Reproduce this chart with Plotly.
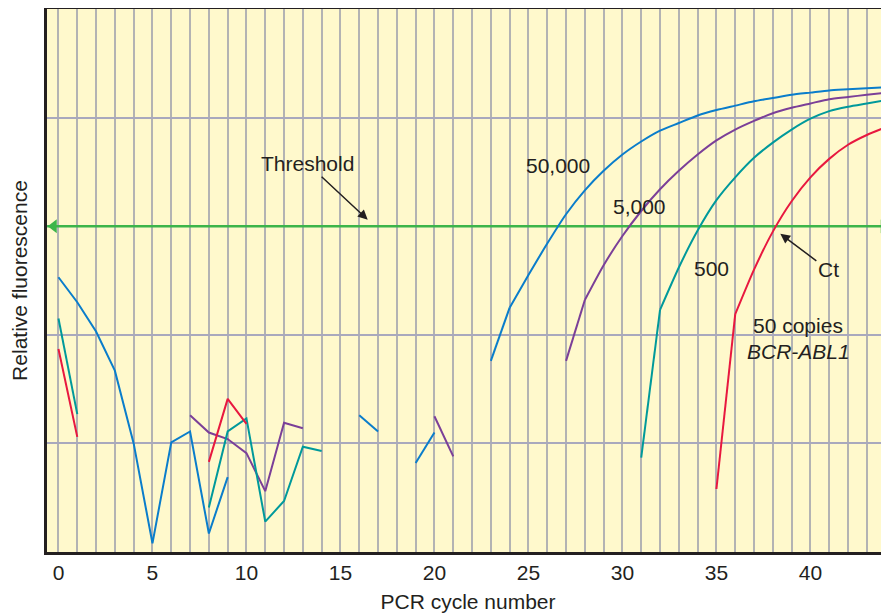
import plotly.graph_objects as go

cycles = list(range(45))
N = None

# 50,000 copies (blue)
blue = [2.53, 2.30, 2.03, 1.67, 1.00, 0.08, 1.01, 1.11, 0.17, 0.69,
        N, N, N, N, N, N, 1.26, 1.11, N, 0.82, 1.10, N, N,
        1.76, 2.25, 2.55, 2.84, 3.11, 3.33, 3.51, 3.66, 3.78, 3.88, 3.95,
        4.02, 4.07, 4.11, 4.15, 4.18, 4.21, 4.23, 4.25, 4.26, 4.27, 4.28]
# 5,000 copies (purple)
purple = [N, N, N, N, N, N, N, 1.26, 1.10, 1.04, 0.91, 0.56, 1.19, 1.14,
          N, N, N, N, N, N, 1.25, 0.88, N, N, N, N, N,
          1.76, 2.32, 2.64, 2.91, 3.14, 3.34, 3.51, 3.66, 3.79, 3.89,
          3.97, 4.04, 4.09, 4.13, 4.17, 4.19, 4.21, 4.23]
# 500 copies (teal)
teal = [2.15, 1.27, N, N, N, N, N, N, 0.41, 1.11, 1.23, 0.28, 0.47, 0.97, 0.93,
        N, N, N, N, N, N, N, N, N, N, N, N, N, N, N, N,
        0.87, 2.23, 2.62, 2.96, 3.24, 3.45, 3.63, 3.77, 3.89, 3.99,
        4.06, 4.10, 4.13, 4.16]
# 50 copies (red)
red = [1.87, 1.06, N, N, N, N, N, N, 0.83, 1.41, 1.18,
       N, N, N, N, N, N, N, N, N, N, N, N, N, N, N, N, N, N, N, N, N, N, N, N,
       0.58, 2.19, 2.60, 2.95, 3.23, 3.45, 3.62, 3.75, 3.84, 3.91]

threshold = 3.0
x_tick_vals = cycles
x_tick_text = [str(c) if c % 5 == 0 else "" for c in cycles]

series = [
    ("50,000", blue, "#0a7dcb"),
    ("5,000", purple, "#7b3f98"),
    ("500", teal, "#00999b"),
    ("50 copies", red, "#e8183f"),
]

FONT = "Liberation Sans, Arial, sans-serif"
FS = 21
fig = go.Figure()

# threshold line
fig.add_trace(go.Scatter(x=[-0.6, 44.2], y=[threshold, threshold], mode="lines",
                         line=dict(color="#3db54a", width=2.5), showlegend=False,
                         hoverinfo="skip"))
fig.add_trace(go.Scatter(x=[-0.25, 43.9], y=[threshold, threshold], mode="markers",
                         marker=dict(symbol=["triangle-left", "triangle-right"], size=12,
                                     color="#3db54a"),
                         showlegend=False, cliponaxis=False, hoverinfo="skip"))


def curve_start(vals):
    # first index of the final uninterrupted run (the amplification curve)
    i = len(vals) - 1
    while i > 0 and vals[i - 1] is not None:
        i -= 1
    return i


for name, vals, col in series:
    s = curve_start(vals)
    # background noise: straight segments
    fig.add_trace(go.Scatter(x=cycles[:s], y=vals[:s], mode="lines", name=name,
                             line=dict(color=col, width=2), connectgaps=False,
                             showlegend=False))
    # first rising segment is straight
    fig.add_trace(go.Scatter(x=cycles[s:s + 2], y=vals[s:s + 2], mode="lines",
                             line=dict(color=col, width=2), showlegend=False))
    # smooth amplification curve
    fig.add_trace(go.Scatter(x=cycles[s + 1:], y=vals[s + 1:], mode="lines",
                             line=dict(color=col, width=2, shape="spline",
                                       smoothing=0.6),
                             showlegend=False))

ann_font = dict(family=FONT, size=FS, color="#231f20")
annotations = [
    dict(x=16.45, y=3.06, ax=-60, ay=-56, text="Threshold", showarrow=True,
         arrowhead=2, arrowsize=1.3, arrowwidth=1.5, arrowcolor="#231f20"),
    dict(x=38.4, y=2.93, ax=48, ay=36, text="Ct", showarrow=True,
         arrowhead=2, arrowsize=1.3, arrowwidth=1.5, arrowcolor="#231f20"),
    dict(x=26.57, y=3.56, text="50,000", showarrow=False),
    dict(x=30.93, y=3.18, text="5,000", showarrow=False),
    dict(x=34.76, y=2.61, text="500", showarrow=False),
    dict(x=39.34, y=2.09, text="50 copies", showarrow=False),
    dict(x=39.34, y=1.85, text="<i>BCR-ABL1</i>", showarrow=False),
]
for a in annotations:
    a.update(xref="x", yref="y", font=ann_font)

# the page body has an 8px margin, so the figure is sized to fit the window
fig.update_layout(
    width=881, height=608,
    margin=dict(l=39, r=0, t=1, b=64),
    paper_bgcolor="white",
    plot_bgcolor="#fff9cc",
    annotations=annotations,
    font=dict(family=FONT, size=FS, color="#231f20"),
    xaxis=dict(range=[-0.61, 44.18], tickvals=x_tick_vals, ticktext=x_tick_text,
               showgrid=True, gridcolor="#b3b3b3", gridwidth=1.5,
               showline=True, linecolor="#231f20", linewidth=3, mirror=True,
               ticks="", zeroline=False, automargin=False,
               title=dict(text="PCR cycle number", standoff=12,
                          font=dict(family=FONT, size=FS)),
               tickfont=dict(family=FONT, size=FS)),
    yaxis=dict(range=[0, 5], tickvals=[1, 2, 3, 4], showticklabels=False,
               showgrid=True, gridcolor="#a9a9bd", gridwidth=1.5,
               showline=True, linecolor="#231f20", linewidth=3, mirror=False,
               ticks="", zeroline=False, automargin=False,
               title=dict(text="Relative fluorescence", standoff=14,
                          font=dict(family=FONT, size=FS))),
)

fig.write_html("out.html")
